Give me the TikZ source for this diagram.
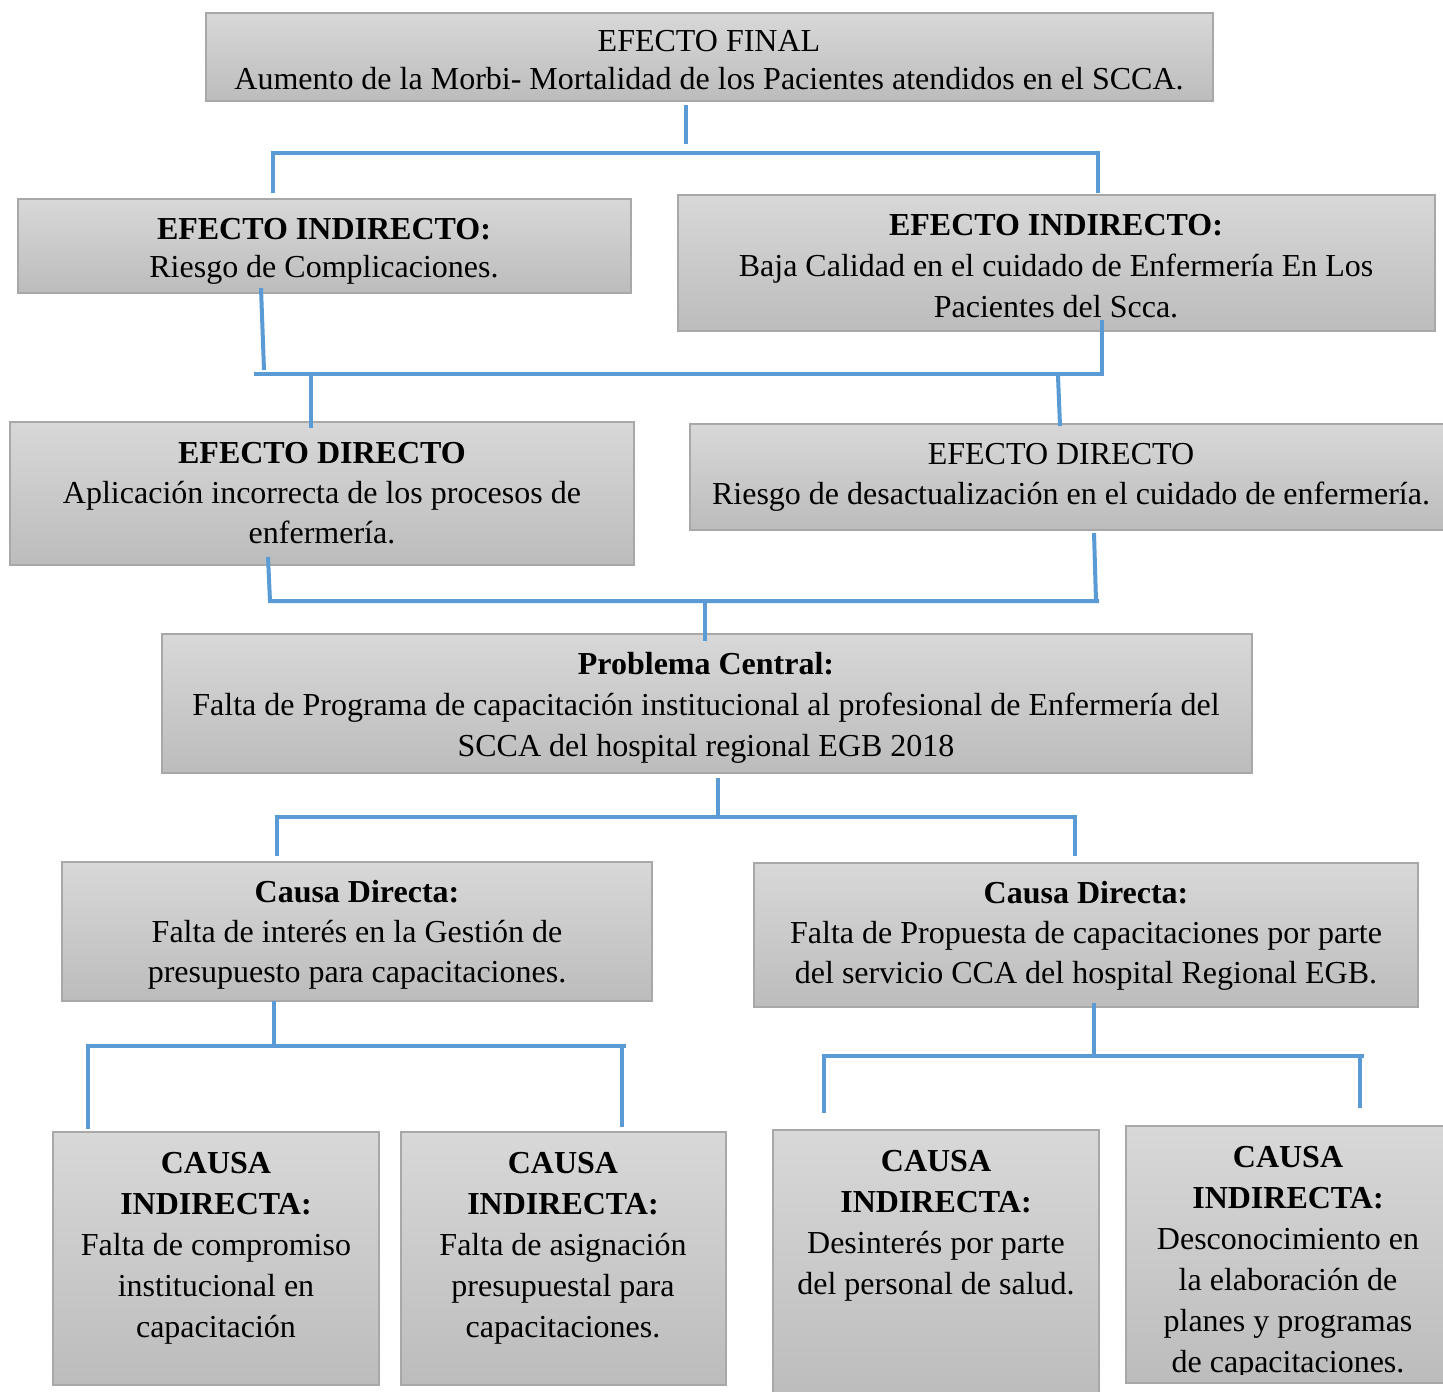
\documentclass[tikz,border=0pt]{standalone}
\usepackage{fontspec}
\setmainfont{Liberation Serif}
\usetikzlibrary{fit}
\definecolor{gtop}{HTML}{D8D8D8}
\definecolor{gbot}{HTML}{BCBCBC}
\definecolor{gline}{HTML}{A8A8A8}
\definecolor{connc}{HTML}{5B9BD5}
\begin{document}
\begin{tikzpicture}[x=0.5pt,y=-0.5pt,
  box/.style={draw=gline,line width=0.7pt,top color=gtop,bottom color=gbot,inner sep=0pt},
  txt/.style={align=center,font=\fontsize{16}{20}\selectfont,inner sep=0pt},
  conn/.style={draw=connc,line width=2pt}]
\clip (0,0) rectangle (1443,1391);
\fill[white] (0,0) rectangle (1443,1391);
% boxes
\node[box,fit={(206,13)(1213,101)}] (b1) {};
\node[box,fit={(18,199)(631,293)}] (b2) {};
\node[box,fit={(678,195)(1435,331)}] (b3) {};
\node[box,fit={(10,422)(634,565)}] (b4) {};
\node[box,fit={(690,424)(1450,530)}] (b5) {};
\node[box,fit={(162,634)(1252,773)}] (b6) {};
\node[box,fit={(62,862)(652,1001)}] (b7) {};
\node[box,fit={(754,863)(1418,1007)}] (b8) {};
\node[box,fit={(53,1132)(379,1385)}] (b9) {};
\node[box,fit={(401,1132)(726,1385)}] (b10) {};
\node[box,fit={(773,1130)(1099,1400)}] (b11) {};
\node[box,fit={(1126,1126)(1450,1383)}] (b12) {};
% texts
\node[txt,font=\fontsize{16}{19}\selectfont] (t1) at (709,60) {EFECTO FINAL\\Aumento de la Morbi- Mortalidad de los Pacientes atendidos en el SCCA.};
\node[txt,font=\fontsize{16}{19}\selectfont] (t2) at (324,251) {\textbf{EFECTO INDIRECTO:}\\Riesgo de Complicaciones.};
\node[txt,font=\fontsize{16}{20.5}\selectfont] (t3) at (1056,266) {\textbf{EFECTO INDIRECTO:}\\Baja Calidad en el cuidado de Enfermería En Los\\Pacientes del Scca.};
\node[txt] (t4) at (322,493) {\textbf{EFECTO DIRECTO}\\Aplicación incorrecta de los procesos de\\enfermería.};
\node[txt] (t5) at (1071,477) {EFECTO DIRECTO\hspace*{10pt}\\Riesgo de desactualización en el cuidado de enfermería.};
\node[txt,font=\fontsize{16}{20.5}\selectfont] (t6) at (706,708) {\textbf{Problema Central:}\\Falta de Programa de capacitación institucional al profesional de Enfermería del\\SCCA del hospital regional EGB 2018};
\node[txt] (t7) at (357,935) {\textbf{Causa Directa:}\\Falta de interés en la Gestión de\\presupuesto para capacitaciones.};
\node[txt] (t8) at (1086,936) {\textbf{Causa Directa:}\\Falta de Propuesta de capacitaciones por parte\\del servicio CCA del hospital Regional EGB.};
\node[txt,font=\fontsize{16}{20.5}\selectfont] (t9) at (216,1248) {\textbf{CAUSA}\\\textbf{INDIRECTA:}\\Falta de compromiso\\institucional en\\capacitación};
\node[txt,font=\fontsize{16}{20.5}\selectfont] (t10) at (563,1248) {\textbf{CAUSA}\\\textbf{INDIRECTA:}\\Falta de asignación\\presupuestal para\\capacitaciones.};
\node[txt,font=\fontsize{16}{20.5}\selectfont] (t11) at (936,1226) {\textbf{CAUSA}\\\textbf{INDIRECTA:}\\Desinterés por parte\\del personal de salud.};
\begin{scope}
\clip (1126,1126) rectangle (1443,1374);
\node[txt,font=\fontsize{16}{20.5}\selectfont] (t12) at (1288,1263) {\textbf{CAUSA}\\\textbf{INDIRECTA:}\\Desconocimiento en\\la elaboración de\\planes y programas\\de capacitaciones.};
\end{scope}
% connector coordinates
\coordinate (a0) at (686,105); \coordinate (a1) at (686,144);
\coordinate (a2) at (273,193); \coordinate (a3) at (273,153);
\coordinate (a4) at (1098,153); \coordinate (a5) at (1098,193);
\coordinate (m0) at (261,288); \coordinate (m1) at (264,370);
\coordinate (m2) at (254,374); \coordinate (m3) at (1102,374); \coordinate (m4) at (1102,320);
\coordinate (m5) at (311,374); \coordinate (m6) at (311,428);
\coordinate (m7) at (1058,376); \coordinate (m8) at (1060,426);
\coordinate (n0) at (268,557); \coordinate (n1) at (270,601); \coordinate (n2) at (1099,601);
\coordinate (n3) at (1094,533); \coordinate (n4) at (1096,601);
\coordinate (n5) at (705,601); \coordinate (n6) at (705,641);
\coordinate (p0) at (718,778); \coordinate (p1) at (718,817);
\coordinate (p2) at (277,856); \coordinate (p3) at (277,817);
\coordinate (p4) at (1075,817); \coordinate (p5) at (1075,856);
\coordinate (q0) at (274,1001); \coordinate (q1) at (274,1046);
\coordinate (q2) at (88,1129); \coordinate (q3) at (88,1046);
\coordinate (q4) at (626,1046); \coordinate (q5) at (622,1046); \coordinate (q6) at (622,1127);
\coordinate (r0) at (1094,1003); \coordinate (r1) at (1094,1057);
\coordinate (r2) at (824,1113); \coordinate (r3) at (824,1056);
\coordinate (r4) at (1364,1056); \coordinate (r5) at (1360,1056); \coordinate (r6) at (1360,1108);
% connectors
\draw[conn] (a0) -- (a1);
\draw[conn] (a2) -- (a3) -- (a4) -- (a5);
\draw[conn] (m0) -- (m1);
\draw[conn] (m2) -- (m3) -- (m4);
\draw[conn] (m5) -- (m6);
\draw[conn] (m7) -- (m8);
\draw[conn] (n0) -- (n1) -- (n2);
\draw[conn] (n3) -- (n4);
\draw[conn] (n5) -- (n6);
\draw[conn] (p0) -- (p1);
\draw[conn] (p2) -- (p3) -- (p4) -- (p5);
\draw[conn] (q0) -- (q1);
\draw[conn] (q2) -- (q3) -- (q4);
\draw[conn] (q5) -- (q6);
\draw[conn] (r0) -- (r1);
\draw[conn] (r2) -- (r3) -- (r4);
\draw[conn] (r5) -- (r6);
\end{tikzpicture}
\end{document}
